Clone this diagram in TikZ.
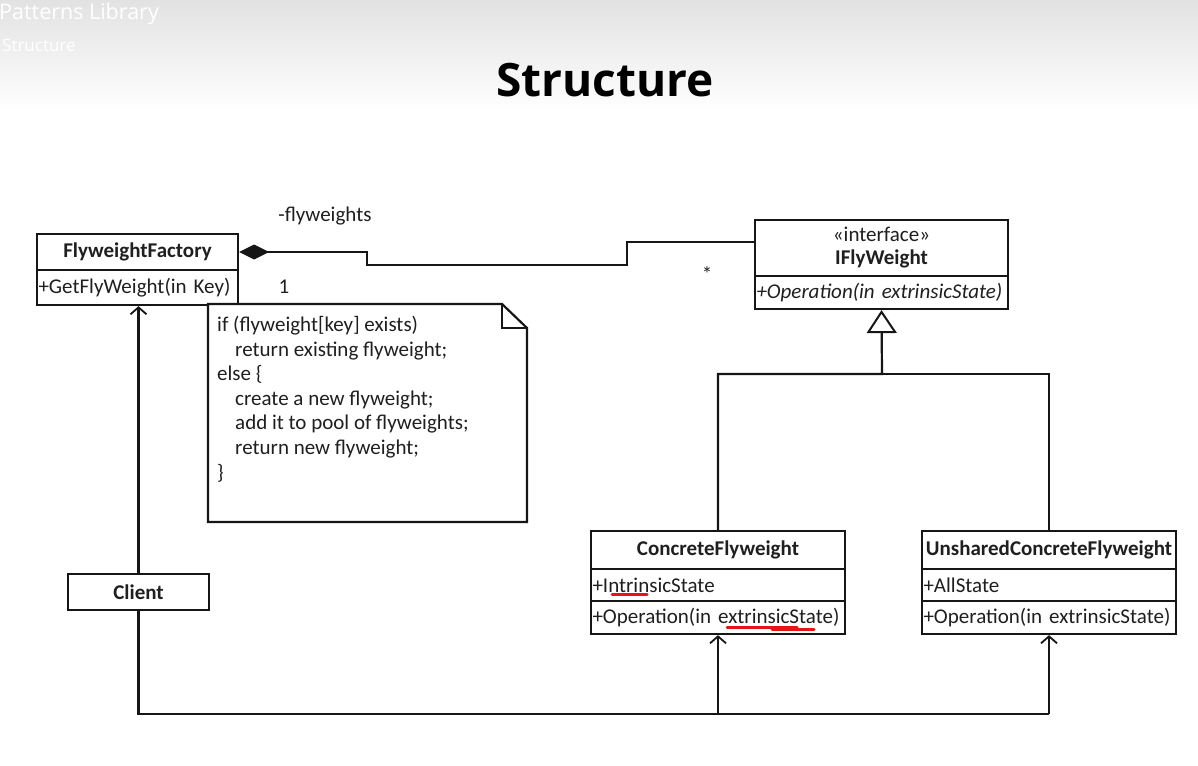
\documentclass[tikz,border=0pt]{standalone}
\usepackage{fontspec}
\setmainfont{Carlito}
\newfontfamily\titlefont{Open Sans}
\usetikzlibrary{arrows.meta}
\definecolor{linec}{HTML}{161616}
\definecolor{txtc}{HTML}{1F1F1F}
\definecolor{hdrtop}{HTML}{E2E2E2}
\definecolor{mark}{HTML}{E3141C}
\begin{document}
\begin{tikzpicture}[x=1pt,y=-1pt,
  line/.style={line width=2.2pt, draw=linec},
  comp/.style={draw=linec, line width=2.2pt, rectangle, inner xsep=1.5pt, inner ysep=0pt,
     text=txtc, font=\fontsize{21}{24}\selectfont},
  lbl/.style={inner sep=0pt, text=txtc, font=\fontsize{21}{24}\selectfont},
  openv/.style={-{Straight Barb[length=7pt,width=16pt,line width=1.8pt]}},
  underl/.style={draw=mark, line width=3pt, line cap=round}
]
\useasboundingbox (0,0) rectangle (1198,765);
\fill[white] (0,0) rectangle (1198,765);
\fill[top color=hdrtop, bottom color=white] (0,0) rectangle (1198,112);
\node[anchor=west, inner sep=0pt, text=white, font=\titlefont\fontsize{21.5}{25}\selectfont] (hdr) at (-1,14) {Patterns Library};
\node[anchor=west, inner sep=0pt, text=white, font=\titlefont\fontsize{17}{20}\selectfont] (hdrsub) at (2,45) {Structure};
\node[inner sep=0pt, font=\titlefont\bfseries\fontsize{46}{52}\selectfont] (title) at (605,80) {Structure};

% FlyweightFactory
\node[comp, minimum width=201pt, minimum height=36pt, text width=198pt, align=center] (ffn) at (137.5,252) {\bfseries FlyweightFactory};
\node[comp, minimum width=201pt, minimum height=35pt, text width=198pt, align=left] (ffo) at (137.5,287.5) {+GetFlyWeight(in Key)};

% IFlyWeight
\node[comp, minimum width=253pt, minimum height=56pt, text width=250pt, align=center, font=\fontsize{21}{23}\selectfont] (ifn) at (881.5,248) {«interface»\\\bfseries IFlyWeight};
\node[comp, minimum width=253pt, minimum height=33pt, text width=250pt, align=left] (ifo) at (881.5,292.5) {\itshape +Operation(in extrinsicState)};

% ConcreteFlyweight
\node[comp, minimum width=254pt, minimum height=38pt, text width=251pt, align=center] (cfn) at (718,550) {\bfseries ConcreteFlyweight};
\node[comp, minimum width=254pt, minimum height=32pt, text width=251pt, align=left] (cfa) at (718,585) {+IntrinsicState};
\node[comp, minimum width=254pt, minimum height=33pt, text width=251pt, align=left] (cfo) at (718,617.5) {+Operation(in extrinsicState)};

% UnsharedConcreteFlyweight
\node[comp, minimum width=254pt, minimum height=38pt, text width=251pt, align=center] (ufn) at (1049,550) {\bfseries UnsharedConcreteFlyweight};
\node[comp, minimum width=254pt, minimum height=32pt, text width=251pt, align=left] (ufa) at (1049,585) {+AllState};
\node[comp, minimum width=254pt, minimum height=33pt, text width=251pt, align=left] (ufo) at (1049,617.5) {+Operation(in extrinsicState)};

% Client
\node[comp, minimum width=141pt, minimum height=36pt, text width=138pt, align=center] (cl) at (138.5,592) {\bfseries Client};

% Note
\fill[white] (208,304) -- (502,304) -- (527,328) -- (527,522) -- (208,522) -- cycle;
\draw[line] (208,304) -- (502,304) -- (527,328) -- (527,522) -- (208,522) -- cycle;
\draw[line] (502,304) -- (502,328) -- (527,328);
\node[lbl, anchor=north west, align=left, font=\fontsize{21}{24.6}\selectfont] (nt) at (217,316)
 {if (flyweight[key] exists)\\\hspace*{18pt}return existing flyweight;\\else \{\\\hspace*{18pt}create a new flyweight;\\\hspace*{18pt}add it to pool of flyweights;\\\hspace*{18pt}return new flyweight;\\\}};

% composition FlyweightFactory -> IFlyWeight
\draw[line, {Diamond[length=30pt,width=15pt]}-] (ffn.east) -| (367,265) -| (627,242) -- ([yshift=6pt]ifn.west);
\node[lbl, anchor=base] (role) at (325,221) {-flyweights};
\node[lbl, anchor=base] (m1) at (284,293) {1};
\node[lbl, anchor=base] (mstar) at (707,281) {*};

% generalization
\coordinate (gj) at (882,374);
\draw[line, -{Triangle[open,length=23pt,width=30pt,line width=2pt]}] (cfn.north) |- (gj) -- (ifo.south);
\draw[line] (ufn.north) |- (gj);

% client dependencies
\draw[line, openv] (cl.north) -- (cl.north |- ffo.south);
\coordinate (bj) at (1049,714);
\draw[line] (cl.south) |- (bj);
\draw[line, openv] (cfo.south |- bj) -- (cfo.south);
\draw[line, openv] (bj) -- (ufo.south);

% red underlines
\draw[underl] (612,594) -- (647,594);
\draw[underl] (727,627.5) -- (797,627.5);
\draw[underl] (772,629.5) -- (814,629.5);
\end{tikzpicture}
\end{document}
